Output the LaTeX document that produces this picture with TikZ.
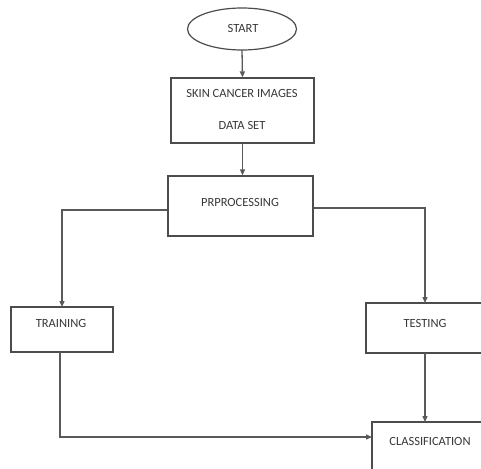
\documentclass[tikz,border=0pt]{standalone}
\usepackage{fontspec}
\setmainfont{Carlito}
\usetikzlibrary{shapes,arrows.meta}

\tikzset{
  box/.style={draw=black!70,line width=1.2pt},
  lbl/.style={text=black!78,font=\fontsize{12.5}{14}\selectfont,inner sep=0pt},
  flow/.style={draw=black!65,line width=1.3pt,-{Triangle[length=6pt,width=5pt]}}
}

\begin{document}
\begin{tikzpicture}[x=1pt,y=-1pt]
        \useasboundingbox (0,0) rectangle (481,468);
        \clip (0,0) rectangle (481,468);

        \draw[box] (242,29) ellipse (54.5 and 21);
        \node[lbl] (start) at (243,28) {START};
        \coordinate (startS) at (242,50);

        \node[box,minimum width=143pt,minimum height=65pt] (data) at (242.5,110.5) {};
        \node[lbl] (data1) at (242,93) {SKIN CANCER IMAGES};
        \node[lbl] (data2) at (242,125) {DATA SET};

        \node[box,minimum width=145pt,minimum height=60pt] (pre) at (240.5,206) {};
        \node[lbl] (pretext) at (240,202) {PRPROCESSING};

        \node[box,minimum width=102pt,minimum height=45pt] (train) at (62,329.5) {};
        \node[lbl] (traintext) at (61,323) {TRAINING};

        \node[box,minimum width=134pt,minimum height=50pt] (test) at (433,328) {};
        \node[lbl] (testtext) at (425,323) {TESTING};

        \node[box,minimum width=128pt,minimum height=68pt] (cls) at (436,456) {};
        \node[lbl] (clstext) at (430,441) {CLASSIFICATION};

        \coordinate (trainT) at (62,307);
        \coordinate (testT) at (425,303);
        \coordinate (testB) at (425,353);
        \coordinate (clsT) at (425,422);
        \coordinate (trainB) at (60,352);
        \coordinate (clsW) at (372,437);

        \draw[flow] (startS) -- (data.north);
        \draw[flow] (data.south) -- (data.south |- pre.north);
        \draw[flow] ([yshift=-4pt]pre.west) -| (trainT);
        \draw[flow] ([yshift=-2pt]pre.east) -| (testT);
        \draw[flow] (testB) -- (clsT);
        \draw[flow] (trainB) |- (clsW);
      \end{tikzpicture}
\end{document}
